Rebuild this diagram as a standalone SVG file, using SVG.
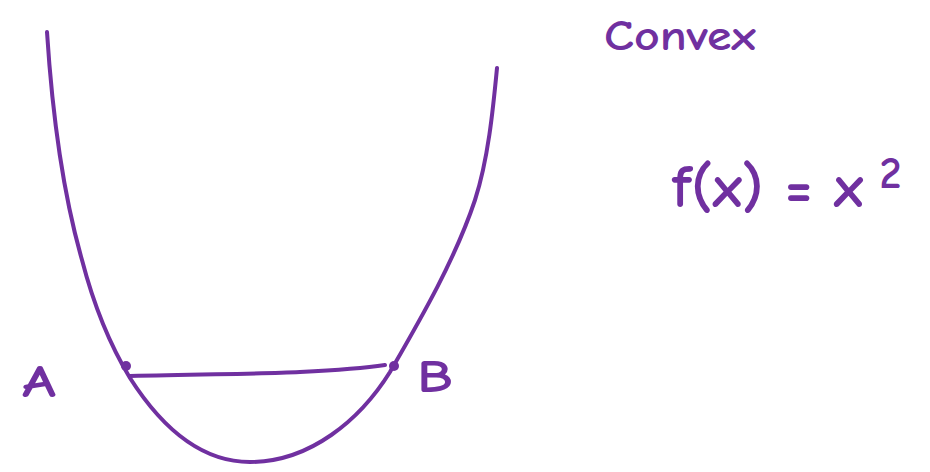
<svg xmlns="http://www.w3.org/2000/svg" width="930" height="472" viewBox="0 0 930 472">
<style>
.ink{fill:none;stroke:#7030A0;stroke-width:4;stroke-linecap:round;stroke-linejoin:round}
.t{fill:#7030A0;font-family:"Comic Neue","Liberation Sans",sans-serif;font-weight:bold}
</style>
<rect width="930" height="472" fill="#fff"/>
<g id="curve">
<path class="ink" d="M47,32 C52,110 62,190 82,260 C95,310 110,345 130,378 C160,425 200,462 250,462 C310,462 360,420 390,372 C420,320 455,260 475,200 C488,160 493,110 497,68"/>
</g>
<g id="connectors">
<path class="ink" d="M130,376 C200,374 260,374 300,372 C340,370 365,368 385,365"/>
</g>
<g id="pointA">
<circle cx="126" cy="366" r="5" fill="#7030A0"/>
<text class="t" x="22" y="397" font-size="46" textLength="34" lengthAdjust="spacingAndGlyphs">A</text>
</g>
<g id="pointB">
<circle cx="394" cy="366" r="5" fill="#7030A0"/>
<text class="t" x="417" y="392" font-size="46" textLength="36" lengthAdjust="spacingAndGlyphs">B</text>
</g>
<g id="title">
<text class="t" x="604" y="50" font-size="42" textLength="152" lengthAdjust="spacingAndGlyphs">Convex</text>
</g>
<g id="formula">
<text class="t" x="672" y="207" font-size="60">f(x) = x<tspan dx="16" dy="-19" font-size="44">2</tspan></text>
</g>
</svg>
